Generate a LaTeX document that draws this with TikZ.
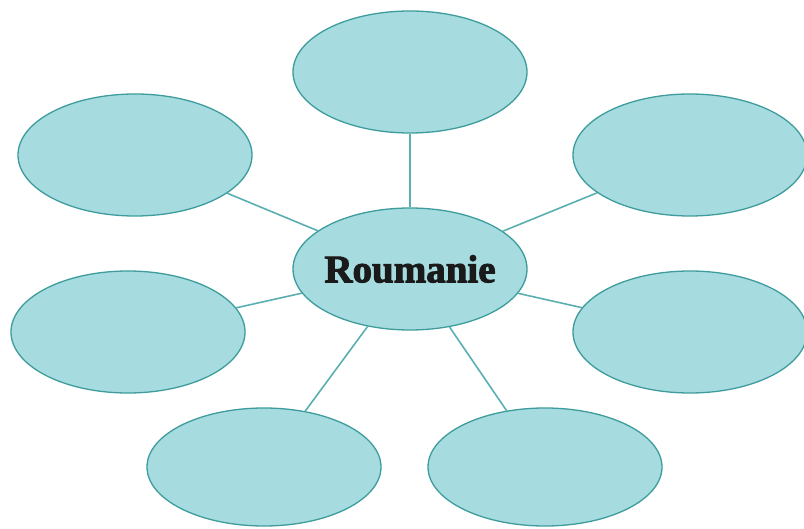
\documentclass[tikz,border=0pt]{standalone}
\usepackage{fontspec}
\setmainfont{Liberation Serif}
\usetikzlibrary{shapes.geometric}
\definecolor{bubblefill}{HTML}{A6DBE0}
\definecolor{bubbleline}{HTML}{3E9C9C}
\definecolor{linkline}{HTML}{5AAFB0}
\definecolor{titletext}{HTML}{1A1A1A}
\tikzset{
  bubble/.style={ellipse, draw=bubbleline, fill=bubblefill, line width=1.3pt,
    minimum width=234pt, minimum height=122pt, inner sep=0pt},
  link/.style={draw=linkline, line width=1.6pt},
  title/.style={text=titletext, inner sep=0pt,
    font=\fontsize{39}{41}\selectfont\bfseries\addfontfeature{FakeBold=2.5}}
}
\begin{document}
\begin{tikzpicture}[x=1pt,y=-1pt]
\useasboundingbox[fill=white] (0,0) rectangle (804,529);
\node[bubble] (c) at (410,269) {};
\node[title] (ctext) at (c.center) {Roumanie};
\node[bubble] (t) at (410,72) {};
\node[bubble] (tl) at (135,155) {};
\node[bubble] (tr) at (690,155) {};
\node[bubble] (ml) at (128,332) {};
\node[bubble] (mr) at (690,332) {};
\node[bubble,minimum height=118pt] (bl) at (264,467) {};
\node[bubble,minimum height=118pt] (br) at (545,467) {};
\foreach \n in {t,tl,tr,ml,mr,bl,br}{
  \draw[link] (c) -- (\n);
}
\end{tikzpicture}
\end{document}
